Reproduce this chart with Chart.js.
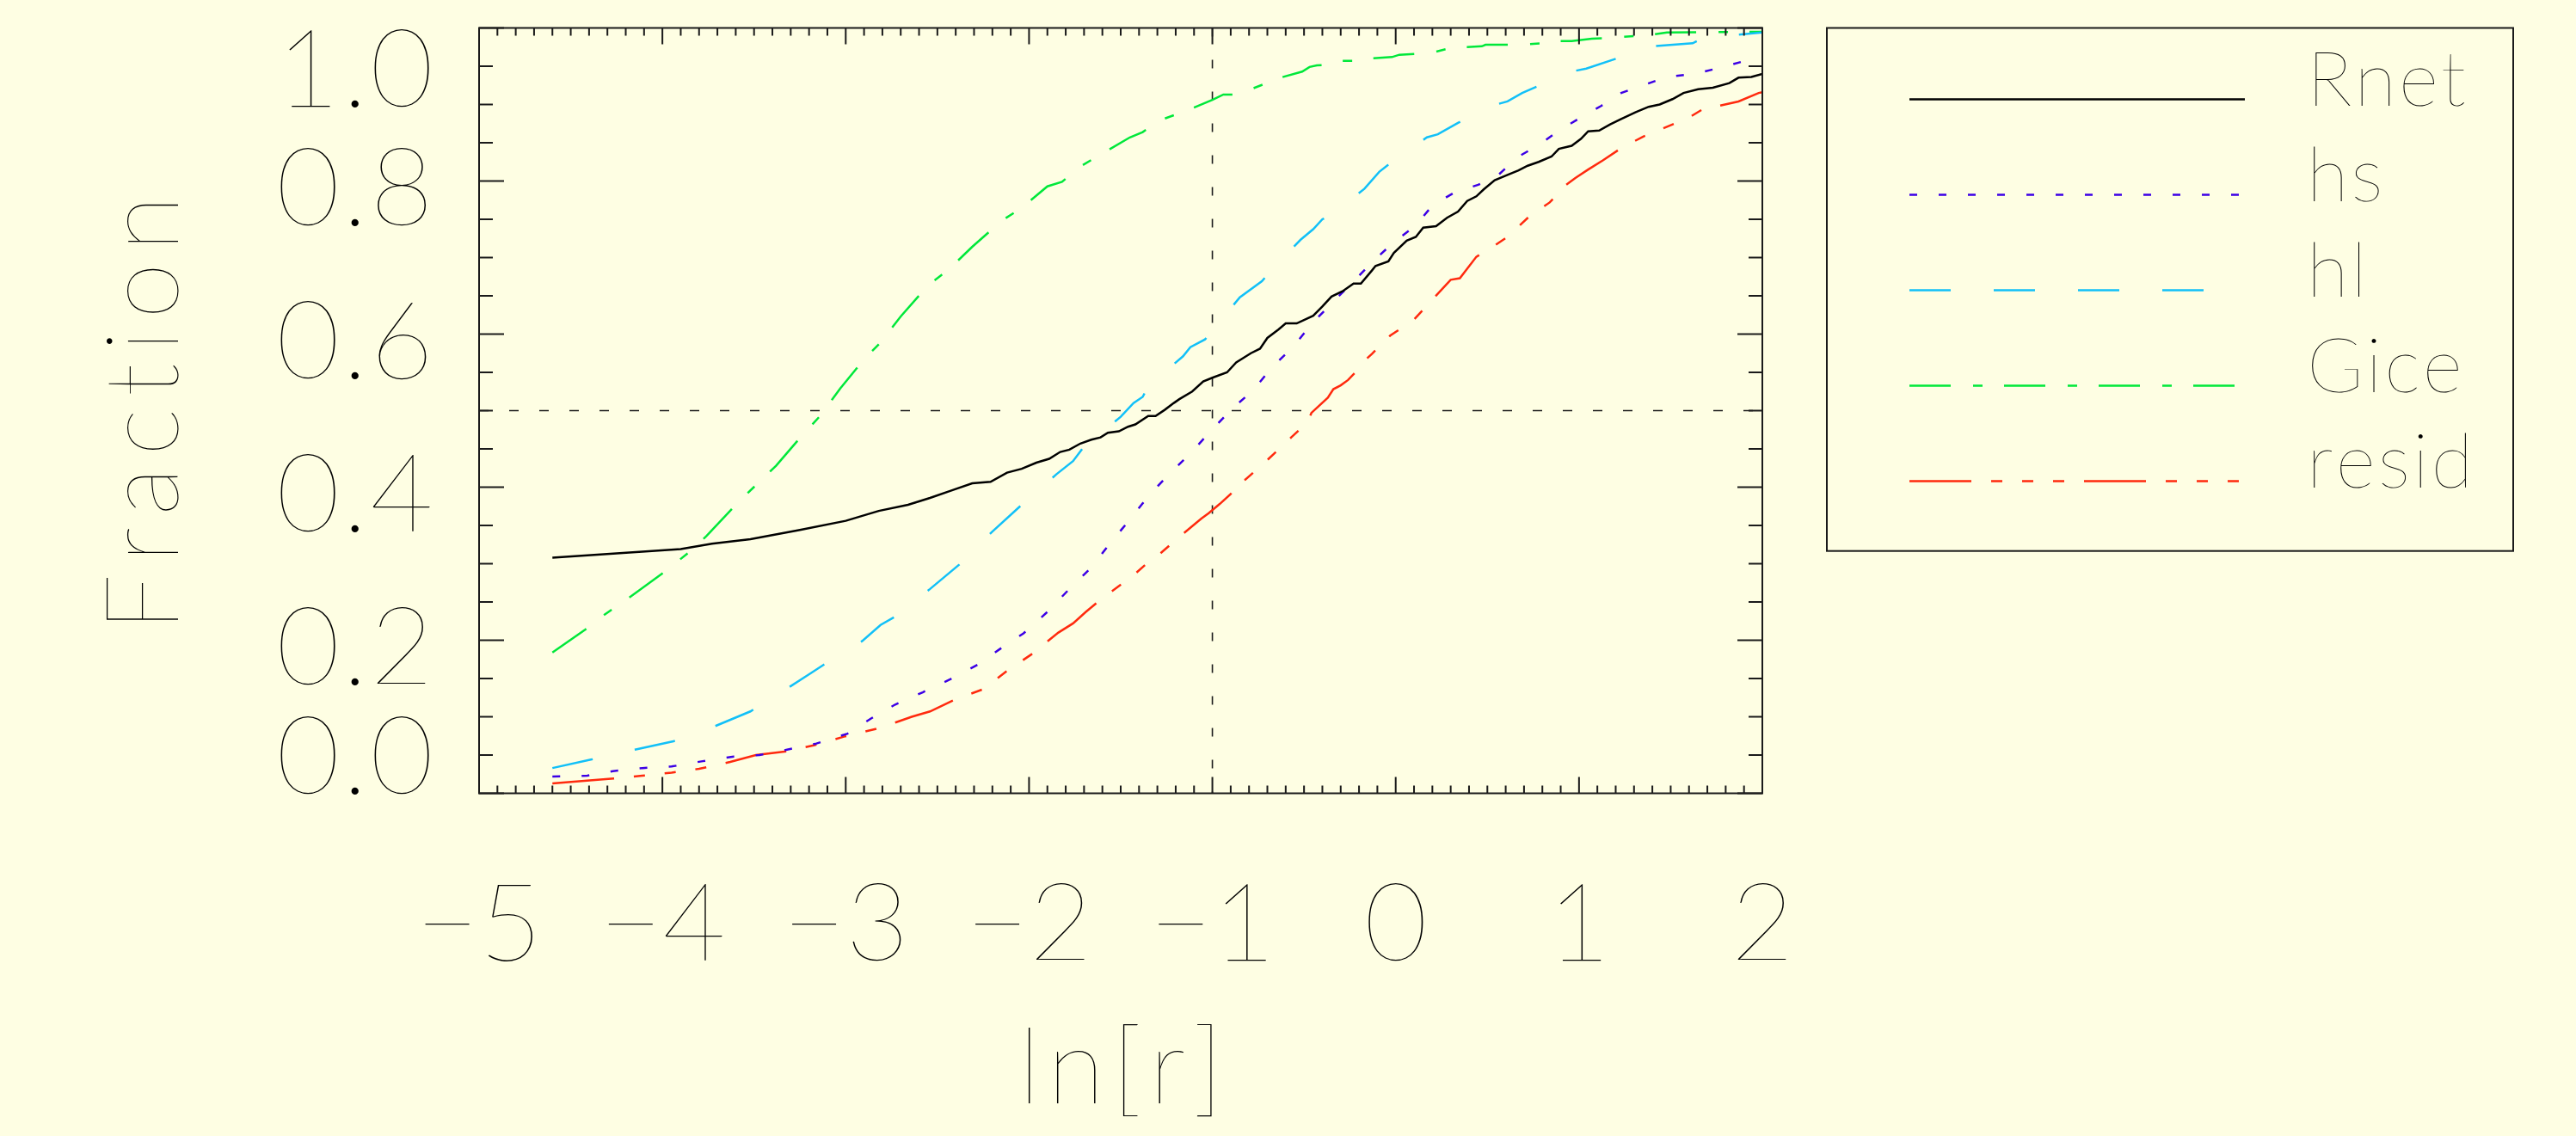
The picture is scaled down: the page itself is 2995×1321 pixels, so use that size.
<!DOCTYPE html>
<html>
<head>
<meta charset="utf-8">
<script src="https://cdn.jsdelivr.net/npm/chart.js@4.4.1/dist/chart.umd.min.js"></script>
<style>
  html, body { margin: 0; padding: 0; background: #fefee3; }
  #wrap { width: 2995px; height: 1321px; }
</style>
</head>
<body>
<div id="wrap"><canvas id="cdfChart" width="2995" height="1321"></canvas></div>
<script>
// cumulative fractions
const xRnet = [-4.60, -3.90, -3.73, -3.52, -3.25, -3.00, -2.82, -2.66, -2.54, -2.42, -2.31, -2.21, -2.12, -2.04, -1.96, -1.89, -1.83, -1.78, -1.72, -1.66, -1.61, -1.57, -1.51, -1.46, -1.42, -1.35, -1.31, -1.26, -1.21, -1.18, -1.11, -1.05, -1.00, -0.92, -0.87, -0.79, -0.74, -0.70, -0.64, -0.60, -0.54, -0.45, -0.40, -0.35, -0.29, -0.23, -0.19, -0.13, -0.11, -0.04, -0.01, 0.06, 0.11, 0.15, 0.22, 0.28, 0.34, 0.39, 0.44, 0.48, 0.54, 0.61, 0.67, 0.72, 0.78, 0.85, 0.89, 0.96, 1.01, 1.05, 1.11, 1.17, 1.23, 1.31, 1.38, 1.44, 1.51, 1.57, 1.65, 1.73, 1.82, 1.87, 1.94, 2.00];
const yRnet = [0.308, 0.319, 0.326, 0.332, 0.344, 0.356, 0.369, 0.377, 0.386, 0.396, 0.405, 0.407, 0.419, 0.424, 0.432, 0.437, 0.446, 0.449, 0.457, 0.462, 0.465, 0.471, 0.473, 0.479, 0.482, 0.493, 0.493, 0.501, 0.510, 0.515, 0.525, 0.538, 0.543, 0.550, 0.563, 0.575, 0.581, 0.595, 0.606, 0.614, 0.614, 0.624, 0.636, 0.649, 0.656, 0.666, 0.666, 0.683, 0.689, 0.695, 0.706, 0.722, 0.727, 0.739, 0.741, 0.752, 0.760, 0.774, 0.780, 0.789, 0.801, 0.808, 0.814, 0.820, 0.825, 0.832, 0.842, 0.846, 0.855, 0.865, 0.866, 0.874, 0.881, 0.890, 0.897, 0.900, 0.907, 0.915, 0.920, 0.922, 0.928, 0.935, 0.936, 0.940];

const xHs = [-4.60, -4.41, -4.27, -4.11, -3.95, -3.78, -3.61, -3.47, -3.32, -3.16, -2.99, -2.86, -2.73, -2.58, -2.43, -2.28, -2.15, -2.03, -1.90, -1.78, -1.66, -1.57, -1.47, -1.35, -1.24, -1.12, -1.01, -0.89, -0.78, -0.67, -0.56, -0.46, -0.35, -0.23, -0.12, -0.02, 0.11, 0.20, 0.32, 0.45, 0.56, 0.67, 0.78, 0.89, 1.01, 1.12, 1.23, 1.36, 1.48, 1.63, 1.77, 1.89, 2.00];
const yHs = [0.022, 0.023, 0.029, 0.033, 0.035, 0.042, 0.048, 0.050, 0.057, 0.065, 0.078, 0.098, 0.116, 0.132, 0.149, 0.168, 0.190, 0.209, 0.237, 0.267, 0.295, 0.323, 0.352, 0.388, 0.416, 0.444, 0.473, 0.503, 0.526, 0.558, 0.583, 0.613, 0.640, 0.669, 0.696, 0.718, 0.742, 0.768, 0.785, 0.795, 0.808, 0.832, 0.847, 0.866, 0.883, 0.898, 0.915, 0.926, 0.936, 0.940, 0.948, 0.956, 0.958];

const xHl = [-4.60, -4.39, -4.15, -3.94, -3.72, -3.52, -3.30, -3.21, -3.12, -2.91, -2.81, -2.73, -2.54, -2.38, -2.20, -2.04, -1.85, -1.76, -1.70, -1.50, -1.43, -1.38, -1.35, -1.16, -1.12, -1.04, -1.00, -0.85, -0.73, -0.68, -0.52, -0.45, -0.40, -0.35, -0.17, -0.09, -0.02, 0.17, 0.23, 0.34, 0.52, 0.61, 0.69, 0.86, 0.94, 1.04, 1.23, 1.30, 1.40, 1.62, 1.67, 1.82, 2.00];
const yHl = [0.033, 0.044, 0.057, 0.068, 0.087, 0.107, 0.140, 0.154, 0.168, 0.199, 0.220, 0.231, 0.267, 0.299, 0.342, 0.377, 0.417, 0.434, 0.453, 0.492, 0.510, 0.518, 0.532, 0.571, 0.583, 0.593, 0.605, 0.648, 0.669, 0.683, 0.723, 0.737, 0.750, 0.756, 0.790, 0.812, 0.825, 0.857, 0.861, 0.876, 0.898, 0.904, 0.915, 0.933, 0.942, 0.947, 0.962, 0.972, 0.976, 0.980, 0.986, 0.990, 0.994];

const xGice = [-4.60, -4.42, -4.33, -4.18, -3.99, -3.86, -3.76, -3.60, -3.48, -3.38, -3.24, -3.14, -3.03, -2.90, -2.81, -2.70, -2.55, -2.44, -2.31, -2.15, -2.04, -1.90, -1.82, -1.72, -1.60, -1.45, -1.38, -1.29, -1.14, -1.00, -0.94, -0.87, -0.79, -0.66, -0.63, -0.51, -0.47, -0.43, -0.34, -0.31, -0.19, -0.15, -0.02, 0.02, 0.19, 0.30, 0.47, 0.49, 0.68, 0.80, 0.84, 0.96, 1.07, 1.17, 1.28, 1.39, 1.48, 2.00];
const yGice = [0.184, 0.214, 0.231, 0.256, 0.289, 0.314, 0.336, 0.377, 0.405, 0.428, 0.467, 0.493, 0.529, 0.567, 0.589, 0.623, 0.664, 0.684, 0.714, 0.748, 0.765, 0.793, 0.799, 0.819, 0.836, 0.857, 0.864, 0.879, 0.892, 0.906, 0.913, 0.913, 0.920, 0.932, 0.935, 0.943, 0.949, 0.951, 0.952, 0.957, 0.957, 0.960, 0.962, 0.965, 0.967, 0.974, 0.976, 0.978, 0.978, 0.980, 0.983, 0.983, 0.986, 0.987, 0.989, 0.991, 0.994, 0.995];

const xResid = [-4.60, -4.28, -4.11, -3.95, -3.80, -3.63, -3.49, -3.32, -3.17, -3.01, -2.82, -2.70, -2.64, -2.54, -2.40, -2.25, -2.12, -1.99, -1.84, -1.76, -1.69, -1.61, -1.48, -1.43, -1.34, -1.30, -1.20, -1.16, -1.06, -1.02, -0.96, -0.90, -0.87, -0.82, -0.72, -0.57, -0.48, -0.46, -0.37, -0.34, -0.30, -0.26, -0.22, -0.18, -0.13, -0.03, 0.10, 0.20, 0.30, 0.35, 0.44, 0.51, 0.61, 0.73, 0.84, 0.93, 0.98, 1.05, 1.13, 1.23, 1.35, 1.48, 1.60, 1.69, 1.76, 1.87, 1.98, 2.00];
const yResid = [0.013, 0.019, 0.023, 0.027, 0.032, 0.041, 0.050, 0.055, 0.063, 0.074, 0.085, 0.095, 0.100, 0.107, 0.123, 0.136, 0.160, 0.181, 0.210, 0.222, 0.237, 0.253, 0.276, 0.285, 0.304, 0.310, 0.331, 0.339, 0.359, 0.366, 0.378, 0.391, 0.405, 0.410, 0.431, 0.465, 0.485, 0.497, 0.517, 0.528, 0.533, 0.540, 0.550, 0.563, 0.574, 0.598, 0.619, 0.645, 0.671, 0.673, 0.701, 0.711, 0.727, 0.754, 0.772, 0.795, 0.804, 0.815, 0.827, 0.843, 0.858, 0.871, 0.883, 0.896, 0.898, 0.904, 0.915, 0.916];

const seriesNames = ['Rnet', 'hs', 'hl', 'Gice', 'resid'];
const seriesX = [xRnet, xHs, xHl, xGice, xResid];
const seriesY = [yRnet, yHs, yHl, yGice, yResid];

// reference lines: ln r = -1 and fraction = 0.5
const refX = -1;
const refY = 0.5;

const xTickValues = [-5, -4, -3, -2, -1, 0, 1, 2];
const xTickLabels = ['\u22125', '\u22124', '\u22123', '\u22122', '\u22121', '0', '1', '2'];
const yTickValues = [0, 0.2, 0.4, 0.6, 0.8, 1.0];
const yTickLabels = ['0.0', '0.2', '0.4', '0.6', '0.8', '1.0'];
const xTitle = 'ln[r]';
const yTitle = 'Fraction';

// styles
const seriesColors = ['#000000', '#3c00e6', '#12c0f8', '#00e83a', '#ff2a0e'];
const seriesDash = [[], [9, 25], [48, 50], [48, 26, 11, 25], [72, 23, 13, 23, 13, 23, 13, 23]];
const BG = '#fefee3';
const INK = '#1a1a1a';
const FONT = '"Lato", "Roboto", "DejaVu Sans", sans-serif';

function drawText(ctx, text, x, y, size, align, width) {
    ctx.font = `200 ${size}px ${FONT}`;
    let spacing = 0;
    const chars = Array.from(text);
    const adv = chars.map(c => ctx.measureText(c).width);
    let total = adv.reduce((a, b) => a + b, 0);
    if (width && chars.length > 1) {
        spacing = Math.max(3, (width - total) / (chars.length - 1));
        total += spacing * (chars.length - 1);
    }
    let cx = x;
    if (align === 'center') cx = x - total / 2;
    if (align === 'right') cx = x - total;
    ctx.textAlign = 'left';
    ctx.textBaseline = 'alphabetic';
    chars.forEach((c, i) => {
        ctx.fillText(c, cx, y);
        cx += adv[i] + spacing;
    });
}

const idlFrame = {
    id: 'idlFrame',
    beforeDraw(chart) {
        const ctx = chart.ctx;
        ctx.save();
        ctx.fillStyle = BG;
        ctx.fillRect(0, 0, chart.width, chart.height);
        ctx.restore();
    },
    afterDraw(chart) {
        const ctx = chart.ctx;
        const a = chart.chartArea;
        const xs = chart.scales.x;
        const ys = chart.scales.y;
        ctx.save();
        ctx.strokeStyle = INK;
        ctx.lineWidth = 2;
        ctx.strokeRect(a.left, a.top, a.right - a.left, a.bottom - a.top);

        ctx.beginPath();
        for (let k = 0; k <= 70; k++) {
            const px = xs.getPixelForValue(-5 + k * 0.1);
            const len = k % 10 === 0 ? 19 : 9;
            ctx.moveTo(px, a.bottom); ctx.lineTo(px, a.bottom - len);
            ctx.moveTo(px, a.top); ctx.lineTo(px, a.top + len);
        }
        for (let k = 0; k <= 20; k++) {
            const py = ys.getPixelForValue(k * 0.05);
            const len = k % 4 === 0 ? 29 : 16;
            ctx.moveTo(a.left, py); ctx.lineTo(a.left + len, py);
            ctx.moveTo(a.right, py); ctx.lineTo(a.right - len, py);
        }
        ctx.stroke();

        ctx.fillStyle = '#000';
        xTickValues.forEach((v, i) => {
            drawText(ctx, xTickLabels[i], xs.getPixelForValue(v), 1117, 127, 'center');
        });
        yTickValues.forEach((v, i) => {
            let base = ys.getPixelForValue(v) + 51.5;
            base = Math.min(Math.max(base, a.top + 91), a.bottom);
            drawText(ctx, yTickLabels[i], 504, base, 127, 'right', 178);
        });

        drawText(ctx, xTitle, (a.left + a.right) / 2, 1283, 122, 'center', 238);
        ctx.save();
        ctx.translate(207, 481);
        ctx.rotate(-Math.PI / 2);
        drawText(ctx, yTitle, 0, 0, 119, 'center', 507);
        ctx.restore();

        // legend box
        const box = { left: 2124, top: 32.5, right: 2922, bottom: 640.7 };
        ctx.strokeRect(box.left, box.top, box.right - box.left, box.bottom - box.top);
        const legendWidths = [183, 85, 56, 171, 193];
        chart.data.datasets.filter(d => !d.isRef).forEach((d, i) => {
            const ly = 115.6 + i * 111;
            ctx.save();
            ctx.strokeStyle = d.borderColor;
            ctx.lineWidth = 2.5;
            ctx.setLineDash(d.borderDash);
            ctx.beginPath();
            ctx.moveTo(2220, ly);
            ctx.lineTo(2610, ly);
            ctx.stroke();
            ctx.restore();
            drawText(ctx, d.label, 2682, ly + 7, 89, 'left', legendWidths[i]);
        });
        ctx.restore();
    }
};

const datasets = seriesNames.map((name, i) => ({
    label: name,
    data: seriesX[i].map((x, j) => ({ x: x, y: seriesY[i][j] })),
    borderColor: seriesColors[i],
    borderWidth: 2.5,
    borderDash: seriesDash[i],
    pointRadius: 0,
    fill: false,
    tension: 0
}));
datasets.push({
    label: 'ref x', isRef: true,
    data: [{ x: refX, y: 1 }, { x: refX, y: 0 }],
    borderColor: INK, borderWidth: 1.6, borderDash: [10, 27], pointRadius: 0
});
datasets.push({
    label: 'ref y', isRef: true,
    data: [{ x: -5, y: refY }, { x: 2, y: refY }],
    borderColor: INK, borderWidth: 1.6, borderDash: [11, 24], pointRadius: 0
});

const ctx = document.getElementById('cdfChart').getContext('2d');
const myChart = new Chart(ctx, {
    type: 'line',
    data: { datasets: datasets },
    options: {
        responsive: false,
        animation: false,
        devicePixelRatio: 1,
        layout: { padding: { left: 557, right: 946, top: 32.5, bottom: 398.5 } },
        scales: {
            x: { type: 'linear', min: -5, max: 2, display: false },
            y: { type: 'linear', min: 0, max: 1, display: false }
        },
        plugins: {
            legend: { display: false },
            tooltip: { enabled: false }
        }
    },
    plugins: [idlFrame]
});
</script>
</body>
</html>
